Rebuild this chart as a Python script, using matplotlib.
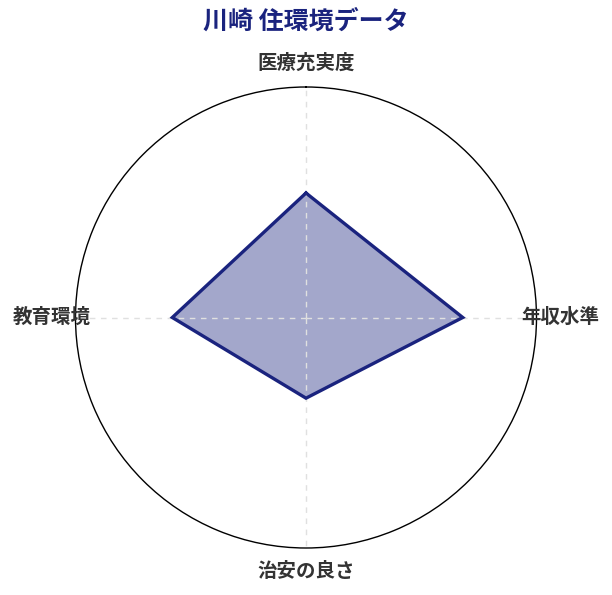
import numpy as np
import matplotlib
matplotlib.use("Agg")
import matplotlib.pyplot as plt

plt.rcParams['font.family'] = ['Noto Sans CJK JP', 'DejaVu Sans']

categories = ['医療充実度', '年収水準', '治安の良さ', '教育環境']
values = [54, 68, 35, 58]
r_max = 100
title = '川崎 住環境データ'

navy = '#1a237e'

fig = plt.figure(figsize=(6.12, 5.95), dpi=100)
ax = fig.add_axes([75.5/612, 47/595, 461/612, 461/595], projection='polar')
ax.set_theta_offset(np.pi/2)
ax.set_theta_direction(-1)

n = len(categories)
angles = np.linspace(0, 2*np.pi, n, endpoint=False)
ang_c = np.concatenate([angles, angles[:1]])
val_c = np.concatenate([values, values[:1]])

ax.fill(ang_c, val_c, color=navy, alpha=0.4, zorder=1, linewidth=0)
ax.plot(ang_c, val_c, color=navy, linewidth=2.4, zorder=3, solid_joinstyle='miter')

ax.set_ylim(0, r_max)
ax.set_yticks([])
ax.set_xticks(angles)
ax.set_xticklabels([])
ax.set_axisbelow(False)
ax.xaxis.grid(True, color='#e0e0e0', linestyle=(0, (4, 4)), linewidth=1)
ax.spines['polar'].set_color('black')
ax.spines['polar'].set_linewidth(1.0)

for a, lab in zip(angles, categories):
    ax.text(a, r_max*1.103, lab, ha='center', va='center', fontsize=14,
            fontweight='bold', color='#333333', clip_on=False, zorder=5)

fig.text(0.5, 1 - 22/595, title, ha='center', va='center', fontsize=18,
         fontweight='bold', color=navy)

fig.savefig('out.png', dpi=100)
